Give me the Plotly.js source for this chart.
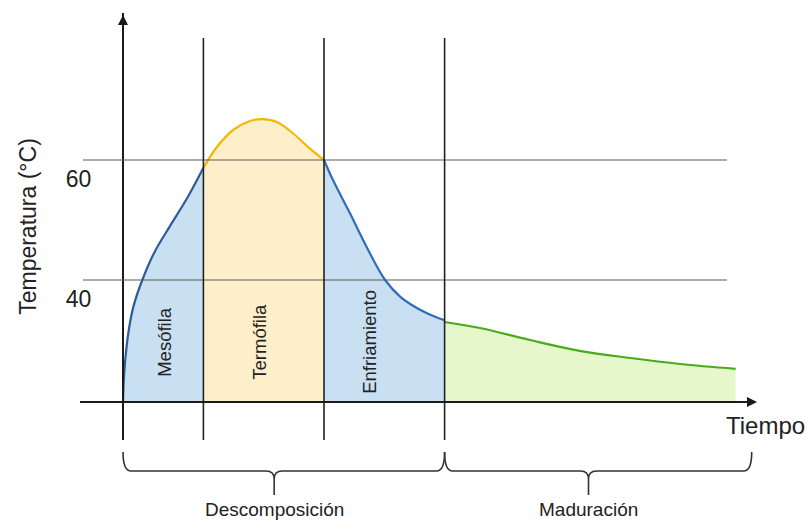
<!DOCTYPE html>
<html>
<head>
<meta charset="utf-8">
<script src="https://cdn.plot.ly/plotly-3.0.1.min.js"></script>
<style>html,body{margin:0;padding:0;background:#fff;}#chart{width:808px;height:522px;}</style>
</head>
<body>
<div id="chart"></div>
<script>
// ---- data ----
const phaseNames = ['Mesófila', 'Termófila', 'Enfriamiento'];
const phaseBounds = [0, 10, 25, 40];
const baseTemp = 19.7;

const timeMeso = [0, 0.1, 0.3, 0.7, 1.3, 2.4, 3.9, 5.8, 8.0, 10];
const tempMeso = [19.7, 23.5, 27.0, 31.5, 35.6, 40.0, 44.6, 48.9, 53.7, 58.7];

const timeTermo = [10, 11.7, 13.7, 15.8, 17.3, 19.2, 21.1, 23.0, 25];
const tempTermo = [58.7, 62.2, 65.0, 66.5, 66.8, 66.3, 64.5, 62.2, 60.0];

const timeEnfr = [25, 26.1, 28.2, 30.3, 32.6, 34.5, 36.6, 38.6, 40];
const tempEnfr = [60.0, 56.7, 51.2, 45.5, 40.0, 37.2, 35.3, 34.0, 33.3];

const timeMad = [40, 44.4, 50.6, 56.8, 63.1, 69.3, 76.2];
const tempMad = [33.0, 32.0, 30.0, 28.2, 27.0, 26.0, 25.2];

const groupNames = ['Descomposición', 'Maduración'];
const groupStart = [0, 40];
const groupEnd = [40, 78.2];

const tempTicks = [40, 60];
const tempTickText = ['40', '60'];

// ---- styling ----
const FONT = 'Liberation Sans, Arial, Helvetica, sans-serif';
const TXT = '#222222';
const xRange = [-5.35, 79.23];
const yRange = [13.333, 84.5];

const series = [
  {x: timeMeso, y: tempMeso, line: '#2b5e98', fill: 'rgba(200,224,241,1)'},
  {x: timeTermo, y: tempTermo, line: '#f2b807', fill: 'rgba(252,239,201,1)'},
  {x: timeEnfr, y: tempEnfr, line: '#2f6cba', fill: 'rgba(200,224,241,1)'},
  {x: timeMad, y: tempMad, line: '#48ab1b', fill: 'rgba(230,248,203,1)'}
];

const traces = [];
series.forEach(s => {
  const x0 = s.x[0], x1 = s.x[s.x.length - 1];
  traces.push({x: [x0, x1], y: [baseTemp, baseTemp], mode: 'lines',
    line: {width: 0, color: 'rgba(0,0,0,0)'}, hoverinfo: 'skip'});
  traces.push({x: s.x, y: s.y, mode: 'lines', fill: 'tonexty', fillcolor: s.fill,
    line: {color: s.line, width: 2.2, shape: 'spline', smoothing: 1}, hoverinfo: 'skip'});
});

const shapes = [];
// horizontal reference lines
tempTicks.forEach(t => shapes.push({type: 'line', xref: 'x', yref: 'y', x0: -4.98, x1: 75.1, y0: t, y1: t,
  line: {color: '#5a5a5a', width: 1.2}, layer: 'above'}));
// vertical phase boundaries
phaseBounds.slice(1).forEach(b => shapes.push({type: 'line', xref: 'x', yref: 'y', x0: b, x1: b, y0: 80.33, y1: yRange[0],
  line: {color: '#222', width: 1.6}, layer: 'above'}));
// time axis line
shapes.push({type: 'line', xref: 'x', yref: 'y', x0: xRange[0], x1: 78.3, y0: 19.667, y1: 19.667,
  line: {color: '#1a1a1a', width: 2}, layer: 'above'});

// braces below the axis
const yTop = -0.0281, yH = -0.0726, yStem = -0.0913, yBot = -0.1288, r = 1.0, stemShift = -1.2;
const annotations = [];
groupNames.forEach((g, i) => {
  const a = groupStart[i], b = groupEnd[i];
  const m = (a + b) / 2 + stemShift;
  const path = `M ${a},${yTop} Q ${a},${yH} ${a + r},${yH} L ${m - r},${yH} Q ${m},${yH} ${m},${yStem} L ${m},${yBot} ` +
               `M ${m},${yStem} Q ${m},${yH} ${m + r},${yH} L ${b - r},${yH} Q ${b},${yH} ${b},${yTop}`;
  shapes.push({type: 'path', xref: 'x', yref: 'paper', path: path, line: {color: '#333', width: 1.6}});
  annotations.push({xref: 'x', yref: 'paper', x: m, y: -0.163, text: g, showarrow: false,
    font: {family: FONT, size: 19, color: TXT}, xanchor: 'center', yanchor: 'middle'});
});

// phase labels (rotated)
const phaseLabelX = [5.2, 17.0, 30.7];
phaseNames.forEach((p, i) => annotations.push({xref: 'x', yref: 'y', x: phaseLabelX[i], y: 29.67, text: p,
  textangle: -90, showarrow: false, font: {family: FONT, size: 18.5, color: TXT}}));

// arrow heads
annotations.push({xref: 'x', yref: 'y', x: 78.86, y: 19.667, ax: -20, ay: 0, text: '', showarrow: true,
  arrowhead: 2, arrowsize: 1, arrowwidth: 2, arrowcolor: '#1a1a1a'});
annotations.push({xref: 'x', yref: 'y', x: 0, y: 84.17, ax: 0, ay: 20, text: '', showarrow: true,
  arrowhead: 2, arrowsize: 1, arrowwidth: 2, arrowcolor: '#1a1a1a'});

// axis name for time
annotations.push({xref: 'paper', yref: 'paper', x: 1.0074, y: 0.033, text: 'Tiempo', showarrow: false,
  font: {family: FONT, size: 24, color: TXT}, xanchor: 'center', yanchor: 'middle'});

const layout = {
  width: 808, height: 522,
  margin: {l: 80, r: 48, t: 13, b: 82},
  paper_bgcolor: '#ffffff', plot_bgcolor: '#ffffff',
  showlegend: false,
  xaxis: {range: xRange, visible: false, fixedrange: true},
  yaxis: {range: yRange, anchor: 'free', position: 43 / 680, automargin: false,
    showline: true, linecolor: '#1a1a1a', linewidth: 2, showgrid: false, zeroline: false,
    ticks: '', tickmode: 'array', tickvals: tempTicks, ticktext: tempTickText,
    ticklabelshift: 19, ticklabelstandoff: 26,
    tickfont: {family: FONT, size: 23, color: TXT},
    title: {text: 'Temperatura (°C)', font: {family: FONT, size: 23, color: TXT}, standoff: 22},
    fixedrange: true},
  shapes: shapes,
  annotations: annotations
};

Plotly.newPlot('chart', traces, layout, {displayModeBar: false, staticPlot: true});
</script>
</body>
</html>
